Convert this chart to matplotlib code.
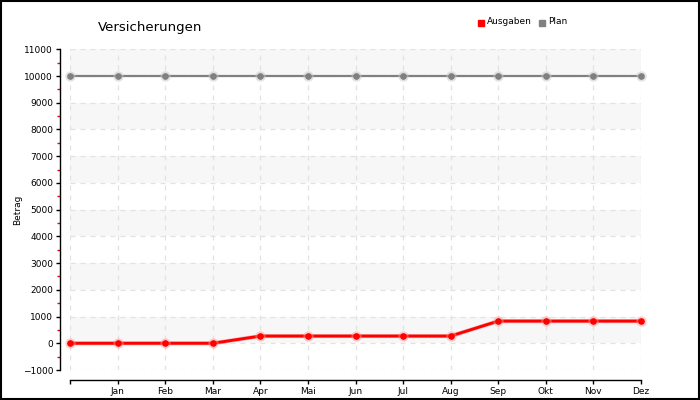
import numpy as np
import matplotlib
matplotlib.use("Agg")
import matplotlib.pyplot as plt
from matplotlib.ticker import MultipleLocator

#%% data

months = ['', 'Jan', 'Feb', 'Mar', 'Apr', 'Mai', 'Jun', 'Jul', 'Aug', 'Sep', 'Okt', 'Nov', 'Dez']
ausgaben = [0, 0, 0, 0, 270, 270, 270, 270, 270, 830, 830, 830, 830]
plan = [10000, 10000, 10000, 10000, 10000, 10000, 10000, 10000, 10000, 10000, 10000, 10000, 10000]

#%% figure

fig = plt.figure(figsize=(7, 4), dpi=100)
ax = fig.add_axes([70/700, 30/400, 571/700, 320.7/400])

x = np.arange(len(months))

# alternating bands
for b in range(0, 11000, 2000):
    ax.axhspan(b, b + 1000, color='#f7f7f7', zorder=0, lw=0)

ax.grid(True, ls=(0, (4, 4)), color='#e2e2e2', lw=0.9, zorder=1)

# glow + line + markers
ax.plot(x, plan, color='#808080', lw=1.6, zorder=3)
ax.plot(x, plan, 'o', color='#c8c8c8', ms=7.5, alpha=0.5, mew=0, zorder=3, clip_on=False)
ax.plot(x, plan, 'o', color='#808080', ms=4.8, mew=0, zorder=4, clip_on=False)

ax.plot(x, ausgaben, color='#ff0000', lw=3, alpha=0.25, zorder=5)
ax.plot(x, ausgaben, color='#ff0000', lw=2.1, zorder=5)
ax.plot(x, ausgaben, 'o', color='#ff9999', ms=7.5, alpha=0.45, mew=0, zorder=5, clip_on=False)
ax.plot(x, ausgaben, 'o', color='#ff0000', ms=4.8, mew=0, zorder=6, clip_on=False)

ax.set_xlim(0, 12)
ax.set_ylim(-1000, 11000)
ax.set_xticks(x)
ax.set_xticklabels(months)
ax.yaxis.set_major_locator(MultipleLocator(1000))
ax.yaxis.set_minor_locator(MultipleLocator(500))

for s in ['top', 'right']:
    ax.spines[s].set_visible(False)
ax.spines['left'].set_position(('outward', 7.2))
ax.spines['bottom'].set_position(('outward', 7.2))
ax.spines['left'].set_linewidth(1)
ax.spines['bottom'].set_linewidth(1)

ax.tick_params(axis='both', which='major', labelsize=6.5, length=3, width=1, color='black', pad=2)
ax.tick_params(axis='y', which='minor', length=2.5, width=1, color='red')
ax.tick_params(axis='x', which='minor', bottom=False)

ax.set_ylabel('Betrag', fontsize=6.5)
ax.yaxis.set_label_coords(-0.084, 0.5)

fig.text(98/700, 1 - 28/400, 'Versicherungen', fontsize=9.5, va='center', ha='left')

# legend
fig.patches.append(plt.Rectangle((478/700, 1 - 26/400), 6/700, 6/400, color='#ff0000',
                                 transform=fig.transFigure, figure=fig))
fig.text(487/700, 1 - 22/400, 'Ausgaben', fontsize=6.5, va='center', ha='left')
fig.patches.append(plt.Rectangle((539/700, 1 - 26/400), 6/700, 6/400, color='#808080',
                                 transform=fig.transFigure, figure=fig))
fig.text(548/700, 1 - 22/400, 'Plan', fontsize=6.5, va='center', ha='left')

# border round the whole image
fig.patches.append(plt.Rectangle((0.001, 0.0015), 0.998, 0.997, fill=False, ec='black', lw=1.5,
                                 transform=fig.transFigure, figure=fig))

fig.savefig('out.png', dpi=100)
